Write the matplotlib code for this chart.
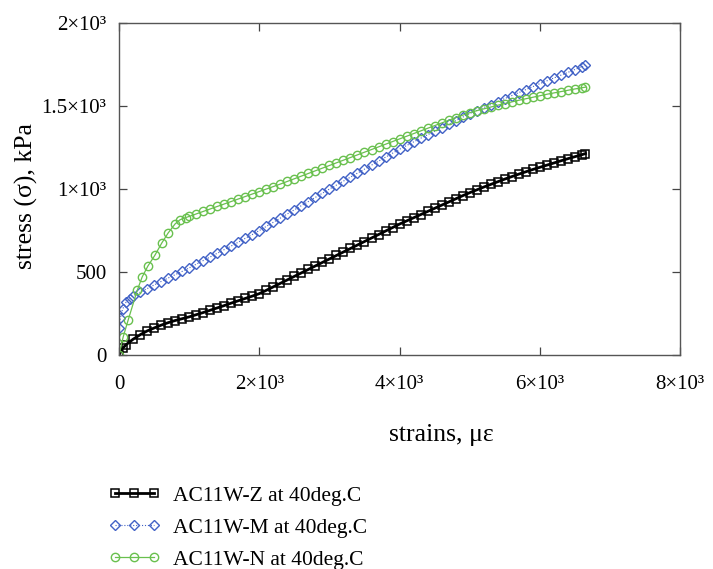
import matplotlib
matplotlib.use("Agg")
import matplotlib.pyplot as plt
from matplotlib.ticker import FuncFormatter

plt.rcParams["font.family"] = ["Liberation Serif", "DejaVu Serif"]

# stress-strain records, strain in microstrain, stress in kPa
strain_z = [0, 50, 100, 200, 300, 400, 500, 600, 700, 800, 900,
            1000, 1100, 1200, 1300, 1400, 1500, 1600, 1700, 1800, 1900,
            2000, 2100, 2200, 2300, 2400, 2500, 2600, 2700, 2800, 2900,
            3000, 3100, 3200, 3300, 3400, 3500, 3600, 3700, 3800, 3900,
            4000, 4100, 4200, 4300, 4400, 4500, 4600, 4700, 4800, 4900,
            5000, 5100, 5200, 5300, 5400, 5500, 5600, 5700, 5800, 5900,
            6000, 6100, 6200, 6300, 6400, 6500, 6600, 6650]
stress_z = [0, 40, 62, 95, 122, 145, 163, 180, 195, 208, 219,
            230, 243, 256, 270, 284, 298, 313, 327, 341, 355,
            370, 390, 411, 432, 453, 474, 495, 516, 537, 558,
            579, 600, 621, 642, 663, 684, 705, 726, 747, 768,
            789, 808, 827, 846, 865, 884, 903, 922, 941, 960,
            978, 995, 1012, 1028, 1044, 1060, 1075, 1090, 1104, 1118,
            1131, 1144, 1157, 1170, 1183, 1195, 1207, 1214]

strain_m = [0, 20, 50, 100, 150, 200, 300, 400, 500, 600, 700, 800, 900,
            1000, 1100, 1200, 1300, 1400, 1500, 1600, 1700, 1800, 1900,
            2000, 2100, 2200, 2300, 2400, 2500, 2600, 2700, 2800, 2900,
            3000, 3100, 3200, 3300, 3400, 3500, 3600, 3700, 3800, 3900,
            4000, 4100, 4200, 4300, 4400, 4500, 4600, 4700, 4800, 4900,
            5000, 5100, 5200, 5300, 5400, 5500, 5600, 5700, 5800, 5900,
            6000, 6100, 6200, 6300, 6400, 6500, 6600, 6650]
stress_m = [160, 225, 275, 318, 338, 358, 378, 400, 422, 443, 464, 484, 504,
            525, 547, 569, 591, 613, 635, 657, 680, 703, 726,
            750, 775, 800, 825, 850, 875, 900, 925, 950, 975,
            1000, 1024, 1048, 1072, 1096, 1120, 1144, 1168, 1192, 1216,
            1240, 1262, 1284, 1306, 1327, 1348, 1369, 1390, 1411, 1433,
            1455, 1473, 1491, 1509, 1527, 1545, 1563, 1581, 1599, 1617,
            1635, 1652, 1669, 1686, 1703, 1720, 1737, 1745]

strain_n = [0, 60, 130, 260, 330, 410, 510, 610, 700, 800, 870,
            950, 1000, 1100, 1200, 1300, 1400, 1500, 1600, 1700, 1800, 1900,
            2000, 2100, 2200, 2300, 2400, 2500, 2600, 2700, 2800, 2900,
            3000, 3100, 3200, 3300, 3400, 3500, 3600, 3700, 3800, 3900,
            4000, 4100, 4200, 4300, 4400, 4500, 4600, 4700, 4800, 4900,
            5000, 5100, 5200, 5300, 5400, 5500, 5600, 5700, 5800, 5900,
            6000, 6100, 6200, 6300, 6400, 6500, 6600, 6650]
stress_n = [0, 110, 210, 390, 470, 535, 600, 675, 735, 790, 815,
            828, 835, 850, 865, 880, 895, 910, 925, 940, 955, 970,
            985, 1000, 1015, 1030, 1046, 1062, 1078, 1094, 1110, 1126,
            1142, 1158, 1174, 1190, 1206, 1222, 1238, 1254, 1270, 1286,
            1302, 1318, 1334, 1350, 1366, 1382, 1398, 1414, 1430, 1445,
            1460, 1472, 1483, 1494, 1505, 1515, 1525, 1535, 1544, 1553,
            1562, 1571, 1579, 1587, 1595, 1603, 1610, 1614]

x_ticks = [0, 2000, 4000, 6000, 8000]
y_ticks = [0, 500, 1000, 1500, 2000]


def sci(v, pos):
    if v == 0:
        return "0"
    if abs(v) < 1000:
        return f"{v:g}"
    return f"{v / 1000:g}×10³"


fig = plt.figure(figsize=(7.13, 5.69), dpi=100)
ax = fig.add_axes([0.1669, 0.376, 0.787, 0.5835])

ax.plot(strain_z, stress_z, color="black", lw=2.0, marker="s", ms=6.0,
        mfc="none", mec="black", mew=1.1, label="AC11W-Z at 40deg.C")
ax.plot(strain_m, stress_m, color="#4262c6", lw=0.8, ls=":", marker="D", ms=4.8,
        mfc="none", mec="#4262c6", mew=1.0, label="AC11W-M at 40deg.C")
ax.plot(strain_n, stress_n, color="#69c04e", lw=0.9, marker="o", ms=6.0,
        mfc="none", mec="#69c04e", mew=1.0, label="AC11W-N at 40deg.C")

ax.set_xlim(0, 8000)
ax.set_ylim(0, 2000)
ax.set_xticks(x_ticks)
ax.set_yticks(y_ticks)
ax.xaxis.set_major_formatter(FuncFormatter(sci))
ax.yaxis.set_major_formatter(FuncFormatter(sci))
ax.tick_params(direction="in", length=6, width=0.9, colors="#444444",
               labelcolor="black", labelsize=15, top=True, right=True)
ax.tick_params(axis="x", pad=14)
ax.tick_params(axis="y", pad=9)
for s in ax.spines.values():
    s.set_color("#555555")
    s.set_linewidth(1.0)

ax.set_xlabel("strains, με", fontsize=18.5)
ax.xaxis.set_label_coords(0.574, -0.207)
ax.set_ylabel("stress (σ), kPa", fontsize=18.5)
ax.yaxis.set_label_coords(-0.145, 0.48)

fig.legend(loc="upper left", bbox_to_anchor=(0.140, 0.1615), frameon=False,
           fontsize=15.5, numpoints=3, handlelength=2.4, handletextpad=0.6,
           labelspacing=0.55, borderaxespad=0)

fig.savefig("out.png", dpi=100, facecolor="white")
